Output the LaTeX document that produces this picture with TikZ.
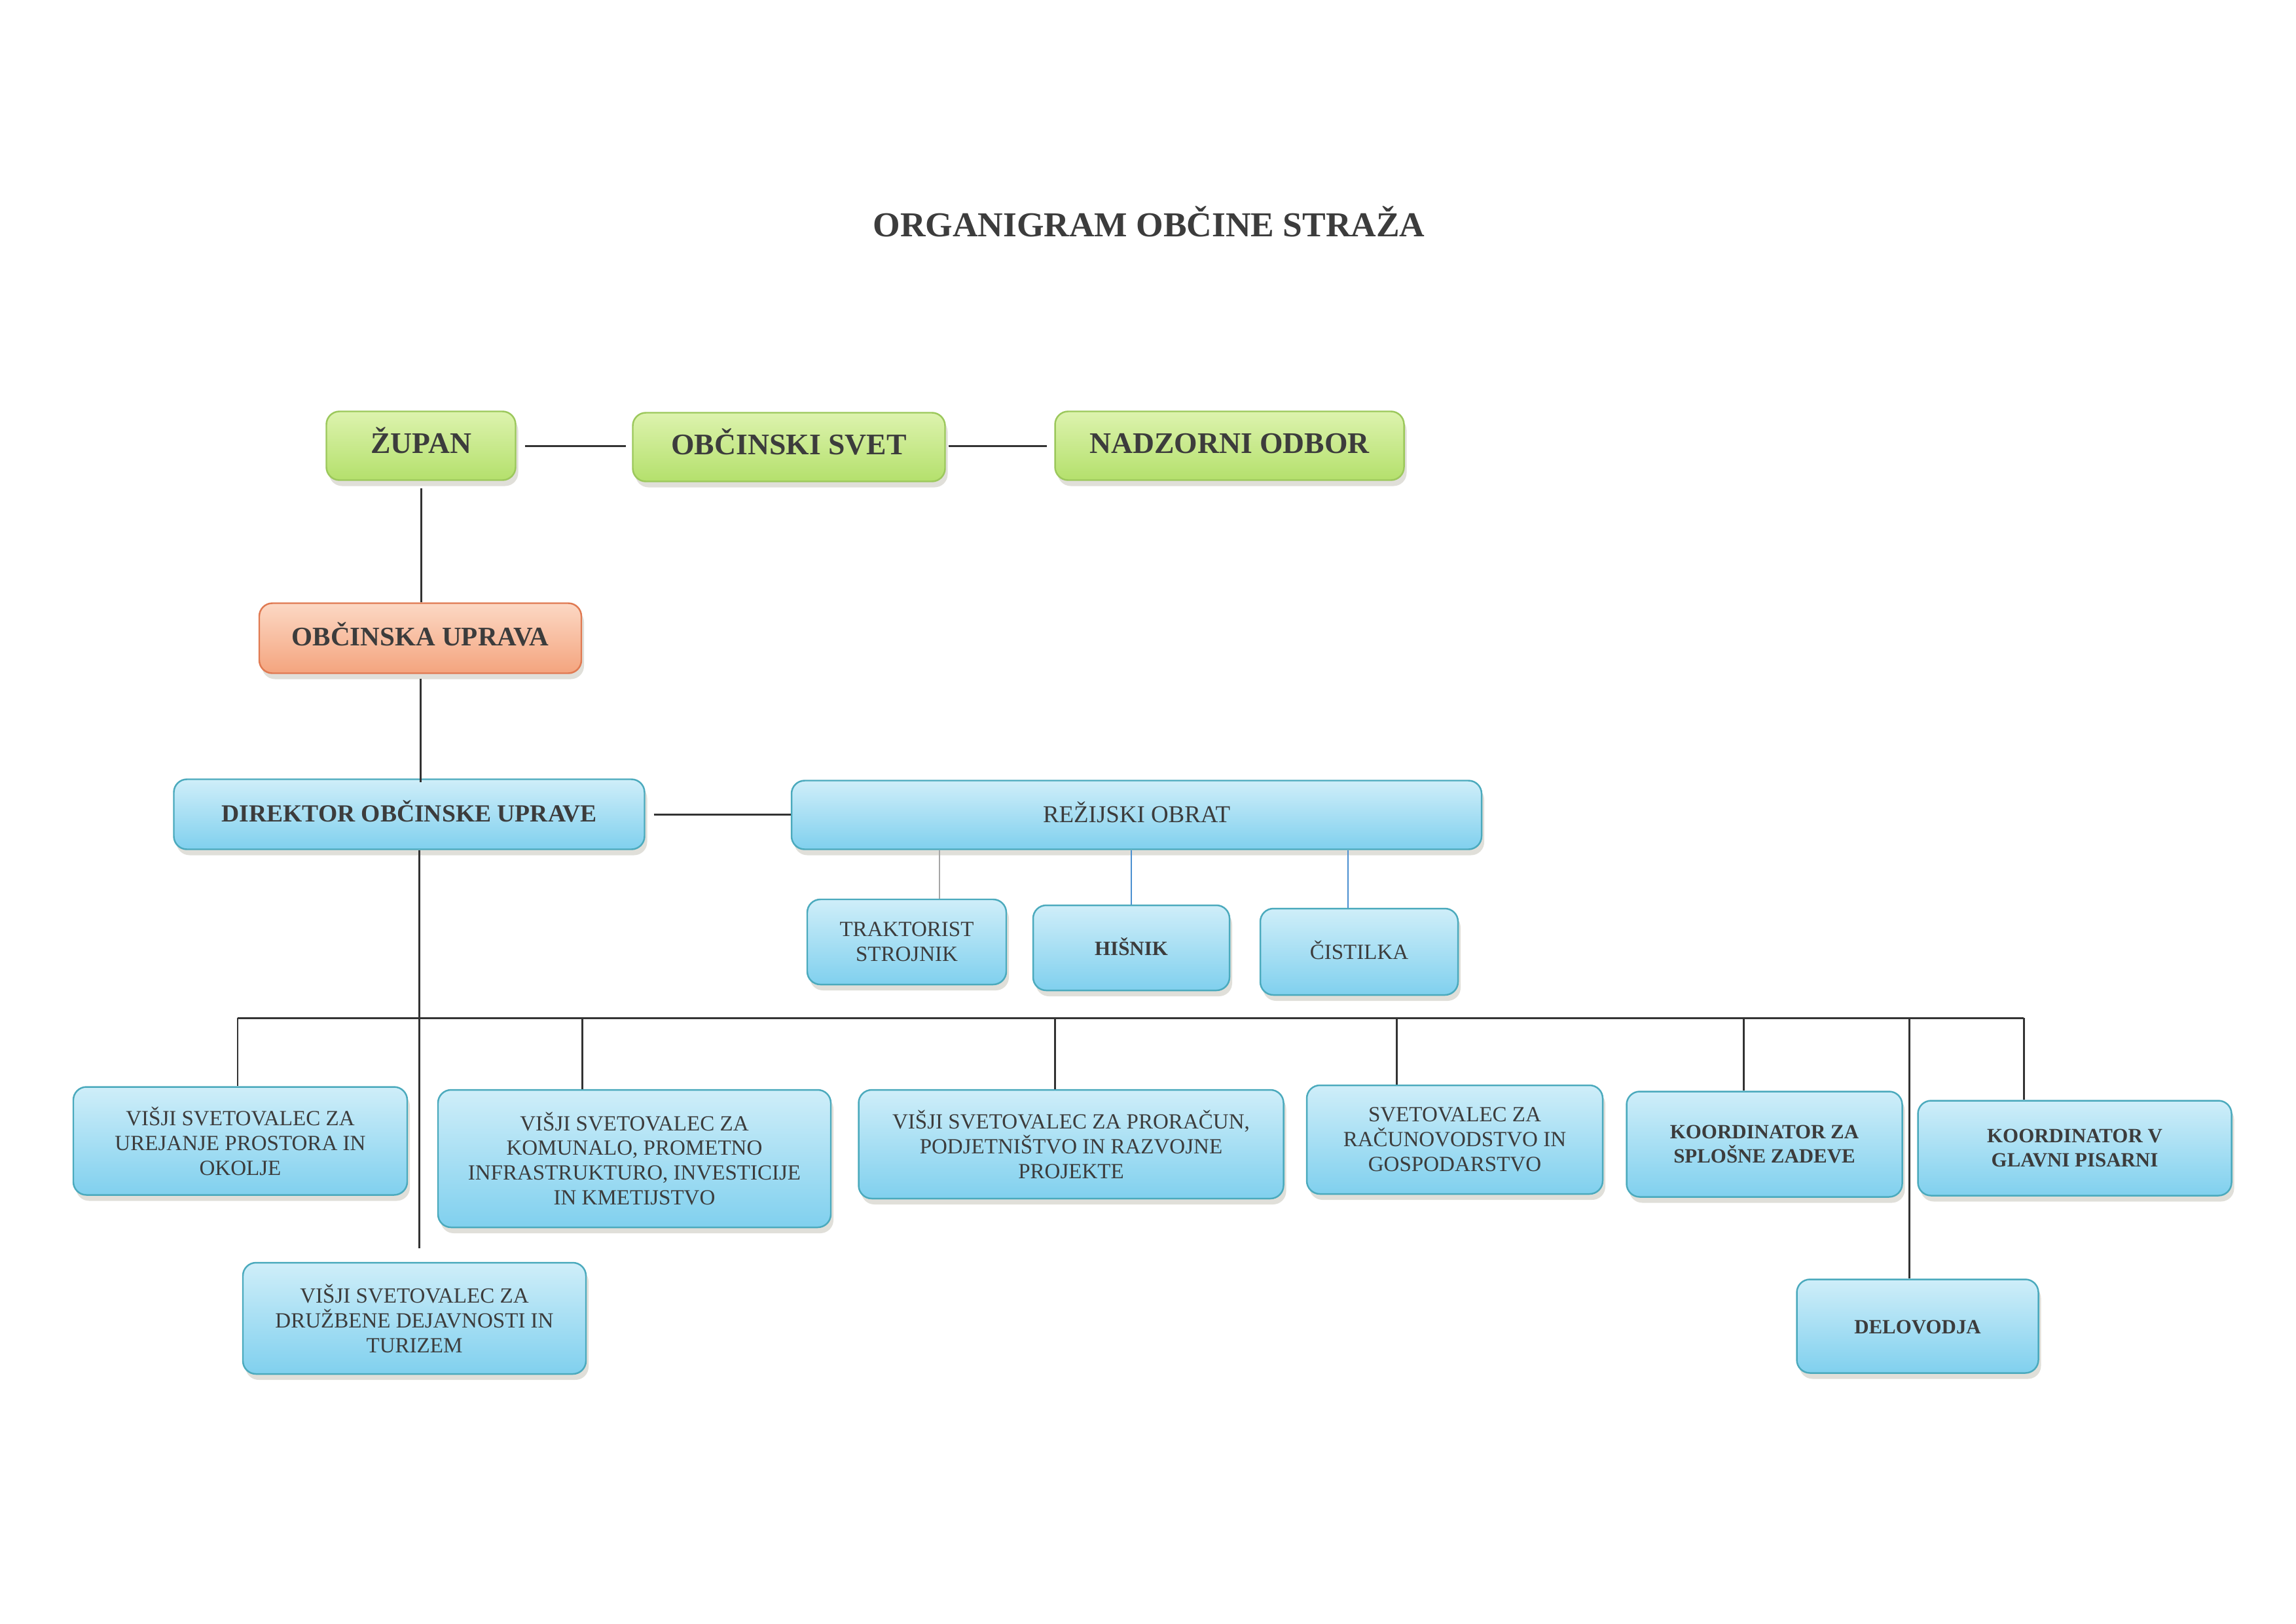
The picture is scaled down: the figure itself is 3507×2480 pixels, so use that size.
\documentclass[tikz,border=0pt]{standalone}
\usepackage{fontspec}
\setmainfont{Liberation Serif}
\usetikzlibrary{shadows}
\definecolor{txt}{HTML}{3C3C3C}
\definecolor{gtop}{HTML}{DDF3AE}
\definecolor{gbot}{HTML}{B4E06C}
\definecolor{gbrd}{HTML}{9CC85C}
\definecolor{otop}{HTML}{FCD8C4}
\definecolor{obot}{HTML}{F4A47E}
\definecolor{obrd}{HTML}{E07A52}
\definecolor{btop}{HTML}{CFEEF9}
\definecolor{bbot}{HTML}{80D0EE}
\definecolor{bbrd}{HTML}{4BAABD}
\definecolor{lnc}{HTML}{333333}
\definecolor{bluel}{HTML}{4A8FD0}
\tikzset{
  boxbase/.style={rounded corners=2mm, line width=0.7pt, inner sep=0pt, align=center, text=txt,
     drop shadow={shadow xshift=0.4mm, shadow yshift=-0.9mm, opacity=0.2, fill=black!70!yellow}},
  oneline/.style={text height=0.66em, text depth=0pt},
  gbox/.style={boxbase, oneline, draw=gbrd, top color=gtop, bottom color=gbot, font=\bfseries\fontsize{13}{15}\selectfont},
  obox/.style={boxbase, oneline, draw=obrd, top color=otop, bottom color=obot, font=\bfseries\fontsize{11.7}{14}\selectfont},
  bbox/.style={boxbase, draw=bbrd, top color=btop, bottom color=bbot, font=\fontsize{9.4}{10.8}\selectfont},
  bbold/.style={bbox, font=\bfseries\fontsize{8.8}{10.6}\selectfont},
  conn/.style={draw=lnc, line width=0.85pt},
  thinb/.style={draw=bluel, line width=0.5pt},
  thing/.style={draw=gray!70, line width=0.5pt}
}
\begin{document}
\begin{tikzpicture}[x=0.1mm, y=-0.1mm]
\useasboundingbox[fill=white] (0,0) rectangle (3507,2480);

\node[text=txt, font=\bfseries\fontsize{15.2}{18}\selectfont, oneline] (title) at (1755,350) {ORGANIGRAM OBČINE STRAŽA};

\node[gbox, minimum width=28.9mm, minimum height=10.5mm] (zupan) at (643,681) {ŽUPAN};
\node[gbox, minimum width=47.7mm, minimum height=10.5mm] (svet) at (1205,683) {OBČINSKI SVET};
\node[gbox, minimum width=53.3mm, minimum height=10.5mm] (nadz) at (1878,681) {NADZORNI ODBOR};

\node[obox, minimum width=49.2mm, minimum height=10.7mm] (uprava) at (642,975) {OBČINSKA UPRAVA};

\node[bbox, oneline, font=\bfseries\fontsize{10.7}{13}\selectfont, minimum width=71.9mm, minimum height=10.7mm] (direktor) at (625,1244) {DIREKTOR OBČINSKE UPRAVE};
\node[bbox, oneline, font=\fontsize{10.5}{12.5}\selectfont, minimum width=105.4mm, minimum height=10.5mm] (rezijski) at (1736,1245) {REŽIJSKI OBRAT};

\node[bbox, minimum width=30.4mm, minimum height=13.0mm] (trak) at (1385,1439) {TRAKTORIST\\STROJNIK};
\node[bbold, oneline, minimum width=30.0mm, minimum height=13.0mm] (hisnik) at (1728,1448) {HIŠNIK};
\node[bbox, oneline, minimum width=30.2mm, minimum height=13.2mm] (cist) at (2076,1454) {ČISTILKA};

\node[bbox, minimum width=51.0mm, minimum height=16.5mm] (ure) at (367,1743) {VIŠJI SVETOVALEC ZA\\UREJANJE PROSTORA IN\\OKOLJE};
\node[bbox, minimum width=60.0mm, minimum height=21.0mm] (kom) at (969,1770) {VIŠJI SVETOVALEC ZA\\KOMUNALO, PROMETNO\\INFRASTRUKTURO, INVESTICIJE\\IN KMETIJSTVO};
\node[bbox, minimum width=64.9mm, minimum height=16.6mm] (pror) at (1636,1748) {VIŠJI SVETOVALEC ZA PRORAČUN,\\PODJETNIŠTVO IN RAZVOJNE\\PROJEKTE};
\node[bbox, minimum width=45.2mm, minimum height=16.6mm] (rac) at (2222,1741) {SVETOVALEC ZA\\RAČUNOVODSTVO IN\\GOSPODARSTVO};
\node[bbold, minimum width=42.1mm, minimum height=16.1mm] (splo) at (2695,1748) {KOORDINATOR ZA\\SPLOŠNE ZADEVE};
\node[bbold, minimum width=47.9mm, minimum height=14.5mm] (glav) at (3169,1754) {KOORDINATOR V\\GLAVNI PISARNI};
\node[bbold, oneline, minimum width=36.9mm, minimum height=14.3mm] (delo) at (2929,2026) {DELOVODJA};
\node[bbox, minimum width=52.4mm, minimum height=17.0mm] (druz) at (633,2014) {VIŠJI SVETOVALEC ZA\\DRUŽBENE DEJAVNOSTI IN\\TURIZEM};

% top connectors
\draw[conn, shorten <=1.3mm, shorten >=0.9mm] (zupan.east) -- (svet.west |- zupan.east);
\draw[conn, shorten <=0.4mm, shorten >=1.1mm] (svet.east |- zupan.east) -- (nadz.west);
\draw[conn, shorten <=1.1mm] (zupan.south) -- (zupan.south |- uprava.north);
\draw[conn, shorten <=0.7mm] (uprava.south) -- ([yshift=-0.6mm]uprava.south |- direktor.north);
\draw[conn, shorten <=1.3mm] (direktor.east) -- (rezijski.west |- direktor.east);

% rezijski drops
\draw[thing] (rezijski.south -| trak.north) ++(50,0) coordinate (t1) -- (t1 |- trak.north);
\draw[thinb] (rezijski.south -| hisnik.north) -- (hisnik.north);
\draw[thinb] ([xshift=-1.7mm]rezijski.south -| cist.north) coordinate (c1) -- (c1 |- cist.north);

% main trunk and bus
\coordinate (tr) at (640,1555);
\coordinate (trend) at (640,1907);
\draw[conn] (direktor.south -| tr) -- (trend);
\coordinate (b1) at (363,1555);
\coordinate (b2) at (889,1555);
\coordinate (b3) at (1611,1555);
\coordinate (b4) at (2133,1555);
\coordinate (b5) at (2663,1555);
\coordinate (b6) at (2916,1555);
\coordinate (b7) at (3091,1555);
\draw[conn] (b1) -- (b7);
\draw[conn] (b1) -- (b1 |- ure.north);
\draw[conn] (b2) -- (b2 |- kom.north);
\draw[conn] (b3) -- (b3 |- pror.north);
\draw[conn] (b4) -- (b4 |- rac.north);
\draw[conn] (b5) -- (b5 |- splo.north);
\draw[conn] (b6) -- (b6 |- delo.north);
\draw[conn] (b7) -- (b7 |- glav.north);
\end{tikzpicture}
\end{document}
